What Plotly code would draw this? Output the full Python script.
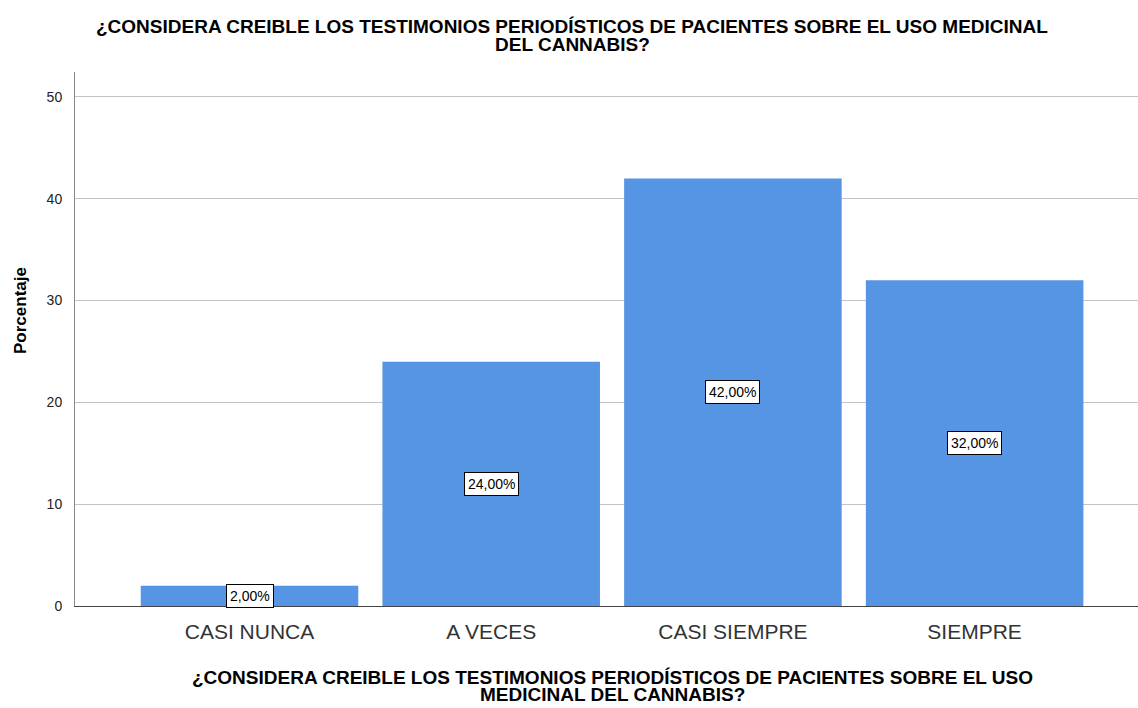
import plotly.graph_objects as go

categories = ["CASI NUNCA", "A VECES", "CASI SIEMPRE", "SIEMPRE"]
values = [2.0, 24.0, 42.0, 32.0]
labels = ["2,00%", "24,00%", "42,00%", "32,00%"]
y_ticks = [0, 10, 20, 30, 40, 50]

title_lines = ["¿CONSIDERA CREIBLE LOS TESTIMONIOS PERIODÍSTICOS DE PACIENTES SOBRE EL USO MEDICINAL",
               "DEL CANNABIS?"]
xtitle_lines = ["¿CONSIDERA CREIBLE LOS TESTIMONIOS PERIODÍSTICOS DE PACIENTES SOBRE EL USO",
                "MEDICINAL DEL CANNABIS?"]
ytitle_text = "Porcentaje"

W, H = 1138, 708
ML, MR, MT, MB = 75, 0, 72, 102

fig = go.Figure()
fig.add_trace(go.Bar(
    x=categories, y=values,
    marker=dict(color="#5595e3", line=dict(width=0)),
    width=0.9,
    hoverinfo="skip",
))

for c, v, t in zip(categories, values, labels):
    fig.add_annotation(
        x=c, y=v / 2, text=t, showarrow=False,
        font=dict(family="Liberation Sans, Arial", size=14, color="black"),
        bgcolor="white", bordercolor="black", borderwidth=1, borderpad=3,
    )

bold_font = dict(family="Liberation Sans Narrow, Arial Narrow, Liberation Sans, Arial", size=19, color="black")

def add_text(txt, px_x, px_y, font, angle=0):
    fig.add_annotation(
        text="<b>" + txt + "</b>", showarrow=False,
        xref="paper", yref="paper",
        x=(px_x - ML) / (W - ML - MR), y=(H - MB - px_y) / (H - MT - MB),
        xanchor="center", yanchor="middle",
        font=font, textangle=angle,
    )

add_text(title_lines[0], 572, 27, bold_font)
add_text(title_lines[1], 572, 44, bold_font)
add_text(xtitle_lines[0], 612, 677, bold_font)
add_text(xtitle_lines[1], 612, 694, bold_font)
add_text(ytitle_text, 20, 311, dict(family="Liberation Sans, Arial", size=17, color="black"), angle=-90)

fig.update_layout(
    width=W, height=H,
    margin=dict(l=ML, r=MR, t=MT, b=MB),
    paper_bgcolor="white", plot_bgcolor="white",
    showlegend=False,
    xaxis=dict(
        range=[-0.722, 3.676],
        automargin=False,
        showgrid=False,
        showline=True, linecolor="#444444", linewidth=1,
        ticks="", ticklabelstandoff=7,
        tickfont=dict(family="Liberation Sans, Arial", size=21, color="#333333"),
    ),
    yaxis=dict(
        range=[0, 52.45],
        automargin=False,
        tickvals=y_ticks,
        showgrid=True, gridcolor="#c3c3c3", gridwidth=1,
        showline=True, linecolor="#888888", linewidth=1,
        ticks="outside", ticklen=0, ticklabelstandoff=9,
        tickfont=dict(family="Liberation Sans, Arial", size=14, color="#222222"),
        zeroline=False,
    ),
)

fig.write_html("out.html", config={"displayModeBar": False},
               post_script="document.body.style.margin='0';document.body.style.padding='0';")
